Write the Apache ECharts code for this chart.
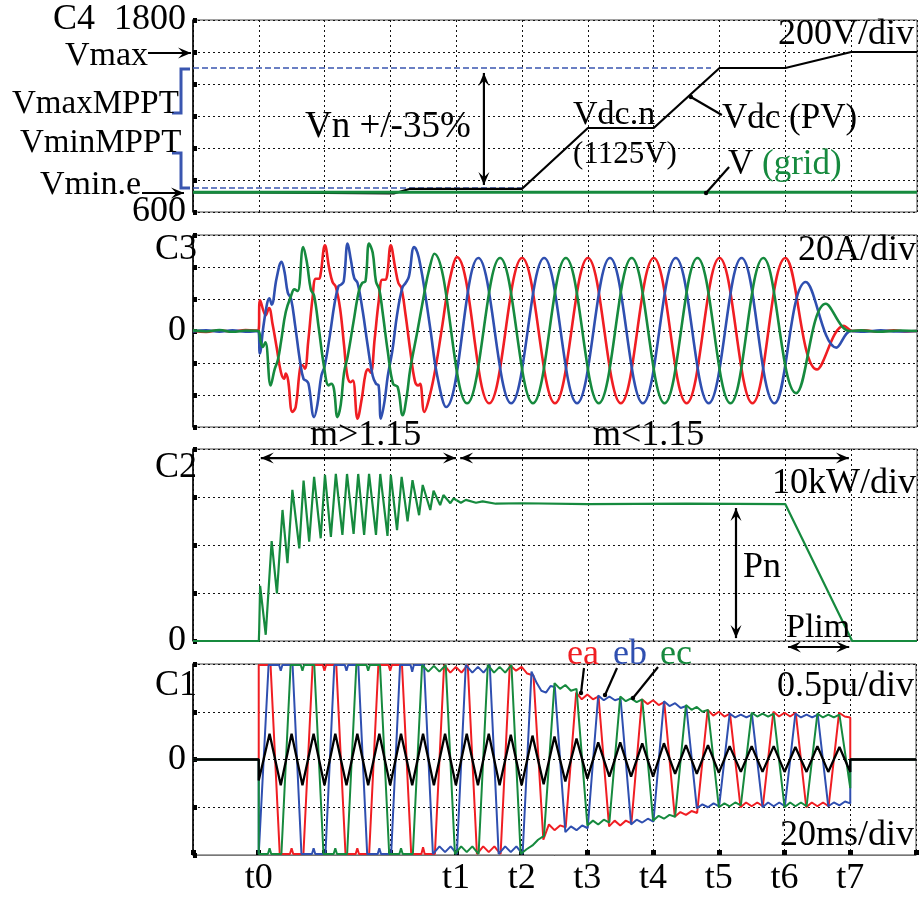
<!DOCTYPE html>
<html>
<head>
<meta charset="utf-8">
<script src="https://cdn.jsdelivr.net/npm/echarts/dist/echarts.min.js"></script>
<style>
html,body{margin:0;padding:0;background:#fff;}
#chart{width:919px;height:897px;}
</style>
</head>
<body>
<div id="chart"></div>
<script>
// ---------- time axis (ms), 20 ms per division ----------
const xTickLabels = [[20,'t0'],[80,'t1'],[100,'t2'],[120,'t3'],[140,'t4'],[160,'t5'],[180,'t6'],[200,'t7']];

// ---------- C4: DC-link voltage and grid voltage (V) ----------
const c4TickLabels = [[1800,'1800'],[600,'600']];
const vdcPV = [[0,723],[20,723],[20,716],[61,716],[66,745],[100,745],[120,1125],[140,1125],[160,1500],[180,1500],[200,1600],[220,1600]];
const vGrid = [[0,723],[220,723]];
const vMaxMPPT = [[0,1500],[157.4,1500]];
const vMinMPPT = [[0,750],[100,750]];

// ---------- C3: phase currents (A) ----------
const c3TickLabels = [[0,'0']];
const iA = [[0,0.2],[4,-0.6],[8,0.5],[12,-0.4],[16,0.6],[19.8,0.2],
  [20.4,19.2],[22.1,9.8],[23.1,14.4],[24.2,4],[25.4,-10],[26.7,-25.6],[27.7,-29.8],[28.2,-26.6],[28.9,-30.8],[30.2,-50.6],
  [31.2,-47.5],[32.6,-22.5],[33.3,-21.4],[34.0,-23.5],[35.0,-6.8],[36.3,20.2],[37.3,32.7],[38.3,32.7],[38.8,35.9],[40.1,53.5],
  [41.4,39],[42.4,30.6],[43.4,27.5],[44.7,14],[45.9,-8.9],[46.9,-28],[47.9,-32],[48.6,-31],[50.0,-54.8],
  [51.3,-42],[52.4,-27],[53.2,-24],[54.0,-26],[55.2,-5],[56.4,18],[57.5,32],[58.4,32],[59.0,35],[60.1,53.5],
  [61.4,40],[62.4,30],[63.3,27],[64.6,10],[66.0,-12],[67.4,-31],[68.4,-34],[69.0,-33],[70.3,-50.6],
  [72.0,-40],[73.8,-22],[75.8,4],[77.8,30],[80.2,46.2],
  [90,-45.2],[100,45.6],[110,-45.2],[120,45.6],[130,-45.2],[140,45.6],[150,-45.2],[160,45.6],[170,-45.2],[180,45.6],
  [189.6,-24],[197.8,3.3],[200.4,0],[204,0.5],[208,-0.4],[213,0.4],[217,-0.3],[220,0]];
const iB = [[0,-0.3],[4,0.5],[8,-0.5],[12,0.4],[16,-0.5],[19.8,0],
  [20.3,-14],[21.4,3],[22.5,17],[23.2,20.5],[23.9,16.5],[25.4,33],[26.9,43.3],[27.8,37],[28.8,24],[29.8,20],[31.0,4],
  [32.6,-20],[33.6,-30],[34.4,-31],[35.1,-33],[36.8,-53.8],[37.8,-46],[39.0,-28],[40.0,-22],[41.5,-4],[43.0,17],
  [44.2,28],[45.0,29],[45.8,31],[47.0,54.6],[48.0,44],[49.0,33],[50.0,30],[51.6,12],[53.0,-8],[54.6,-28],[55.6,-33],
  [56.4,-34],[57.1,-54.8],[58.2,-44],[59.2,-28],[60.6,-12],[62.0,10],[63.6,27],[64.6,30],[65.6,34],[67.2,52.5],
  [68.2,49],[69.2,40],[70.2,28],[72.2,0],[74.2,-28],[76.9,-47.5],
  [86.7,45.6],[96.7,-45.2],[106.7,45.6],[116.7,-45.2],[126.7,45.6],[136.7,-45.2],[146.7,45.6],[156.7,-45.2],[166.7,45.6],
  [176.7,-45.2],[186.2,30.6],[195.5,-10.4],[200,0],[204,-0.5],[209,0.4],[214,-0.3],[220,0]];
const iC = [[0,0.4],[4,-0.3],[8,0.6],[12,-0.5],[16,0.3],[19.8,0],
  [20.5,-6],[21.2,-10],[22.0,-7],[23.6,-34],[24.8,-24],[25.8,-18],[26.8,-6],[28.2,12],[29.8,22],[30.8,26],[31.8,25],
  [33.5,52.5],[34.6,43],[35.8,26],[36.8,22],[38.2,2],[39.8,-22],[41.2,-34],[42.0,-33],[42.8,-36],[43.9,-53.8],
  [44.9,-46],[45.9,-26],[47.0,-16],[48.8,6],[50.4,25],[51.4,30],[52.4,31],[53.5,54.6],[54.6,49],[55.6,31],[56.6,26],
  [57.6,12],[59.2,-13],[60.8,-33],[62.2,-35],[63.7,-52.7],[65.0,-40],[66.0,-24],[68.2,0],[70.4,25],[71.6,37],[73.3,48.3],
  [83.3,-45.2],[93.3,45.6],[103.3,-45.2],[113.3,45.6],[123.3,-45.2],[133.3,45.6],[143.3,-45.2],[153.3,45.6],[163.3,-45.2],
  [173.3,45.6],[183.3,-38.8],[192.3,17],[199.6,0],[203,0.4],[208,-0.5],[215,0.3],[220,0]];

// ---------- C2: output power (kW) ----------
const c2TickLabels = [[0,'0']];
const pOut = [[0,0],[20,0],[20.1,2],[20.4,11.5],[22.1,1.3],[23.9,20.8],[25.5,9.9],[27.2,27.3],[28.7,16.2],[30.2,31.5],
  [32.3,19.3],[33.6,33.4],[35.3,20.7],[36.8,34.2],[38.8,21.4],[40.1,34.6],[41.9,21.7],[43.4,34.8],[45.4,22.1],[46.8,34.8],
  [48.8,22.3],[50.2,34.8],[52.0,22.1],[53.5,34.8],[55.6,22.1],[56.9,34.8],[59.1,21.9],[60.1,34.6],[62.0,23.1],[63.4,34.2],
  [65.2,24.9],[66.7,33.5],[68.7,26.2],[69.8,32.5],[72.1,27.3],[73.1,31.3],[75.1,28.3],[76.1,30.4],[78.2,28.7],[79.2,29.7],
  [81.4,28.8],[82.9,29.4],[86,28.8],[88,29.1],[92,28.6],[100,28.7],[120,28.5],[150,28.6],[180,28.5],[200.3,0],[220,0]];

// ---------- C1: modulating signals (pu) ----------
const c1TickLabels = [[0,'0']];
const eA = [[0,0],[20,0],[20,0.99],[23.6,0.99],
  [26.4,-0.99],[29.5,-0.99],[30,-0.93],[30.5,-0.99],[33.6,-0.99],
  [36.4,0.99],[39.5,0.99],[40,0.93],[40.5,0.99],[43.6,0.99],
  [46.4,-0.99],[49.5,-0.99],[50,-0.93],[50.5,-0.99],[53.6,-0.99],
  [56.4,0.99],[59.5,0.99],[60,0.93],[60.5,0.99],[63.6,0.99],
  [66.4,-0.99],[69.5,-0.99],[70,-0.92],[70.5,-0.99],[73.6,-0.99],
  [76.4,0.99],[78.3,0.91],[80,0.97],[81.7,0.91],[83.6,0.99],
  [86.4,-0.99],[88.3,-0.91],[90,-0.97],[91.7,-0.91],[93.6,-0.99],
  [96.4,0.99],[98.3,0.93],[100,0.97],[101.7,0.9],[103.6,0.88],
  [106.6,-0.84],[108.3,-0.68],[110,-0.74],[111.7,-0.69],[113.4,-0.71],
  [116.6,0.70],[118.3,0.63],[120,0.68],[121.7,0.63],[123.4,0.66],
  [126.6,-0.70],[128.3,-0.64],[130,-0.69],[131.7,-0.64],[133.4,-0.67],
  [136.6,0.63],[138.3,0.58],[140,0.62],[141.7,0.57],[143.4,0.60],
  [146.6,-0.60],[148.3,-0.55],[150,-0.58],[151.7,-0.54],[153.4,-0.56],
  [156.6,0.52],[158.3,0.46],[160,0.50],[161.7,0.45],[163.4,0.48],
  [166.6,-0.50],[168.3,-0.45],[170,-0.49],[171.7,-0.45],[173.4,-0.49],
  [176.6,0.50],[178.3,0.45],[180,0.49],[181.7,0.45],[183.4,0.49],
  [186.6,-0.50],[188.3,-0.45],[190,-0.49],[191.7,-0.45],[193.4,-0.49],
  [196.6,0.49],[198.3,0.45],[200,0.44],[200,0],[220,0]];
const eB = [[0,0],[20,0],[20,-0.99],[20.3,-0.99],
  [23.0,0.99],[26.2,0.99],[26.7,0.93],[27.2,0.99],[30.3,0.99],
  [33.0,-0.99],[36.2,-0.99],[36.7,-0.93],[37.2,-0.99],[40.3,-0.99],
  [43.0,0.99],[46.2,0.99],[46.7,0.93],[47.2,0.99],[50.3,0.99],
  [53.0,-0.99],[56.2,-0.99],[56.7,-0.93],[57.2,-0.99],[60.3,-0.99],
  [63.0,0.99],[66.2,0.99],[66.7,0.92],[67.2,0.99],[70.3,0.99],
  [73.0,-0.99],[75.0,-0.91],[76.7,-0.97],[78.4,-0.91],[80.3,-0.99],
  [83.0,0.99],[85.0,0.91],[86.7,0.97],[88.4,0.91],[90.3,0.99],
  [93.0,-0.99],[95.0,-0.91],[96.7,-0.97],[98.4,-0.91],[100.3,-0.99],
  [103.0,0.92],[104.6,0.80],[106.0,0.72],[107.4,0.70],[108.8,0.77],[110.1,0.76],
  [113.3,-0.76],[115.0,-0.70],[116.7,-0.74],[118.4,-0.69],[120.1,-0.72],
  [123.3,0.67],[125.0,0.62],[126.7,0.66],[128.4,0.62],[130.1,0.64],
  [133.3,-0.68],[135.0,-0.63],[136.7,-0.66],[138.4,-0.62],[140.1,-0.65],
  [143.3,0.61],[145.0,0.56],[146.7,0.59],[148.4,0.54],[150.1,0.56],
  [153.3,-0.51],[155.0,-0.47],[156.7,-0.50],[158.4,-0.46],[160.1,-0.49],
  [163.3,0.48],[165.0,0.44],[166.7,0.47],[168.4,0.44],[170.1,0.47],
  [173.3,-0.50],[175.0,-0.45],[176.7,-0.49],[178.4,-0.45],[180.1,-0.49],
  [183.3,0.48],[185.0,0.44],[186.7,0.47],[188.4,0.44],[190.1,0.47],
  [193.3,-0.49],[195.0,-0.45],[196.7,-0.48],[198.4,-0.44],[200,-0.46],[200,0],[220,0]];
const eC = [[0,0],[20,0],[20,-0.99],
  [22.8,-0.99],[23.3,-0.93],[23.8,-0.99],[26.9,-0.99],
  [29.7,0.99],[32.8,0.99],[33.3,0.93],[33.8,0.99],[36.9,0.99],
  [39.7,-0.99],[42.8,-0.99],[43.3,-0.93],[43.8,-0.99],[46.9,-0.99],
  [49.7,0.99],[52.8,0.99],[53.3,0.93],[53.8,0.99],[56.9,0.99],
  [59.7,-0.99],[62.8,-0.99],[63.3,-0.93],[63.8,-0.99],[66.9,-0.99],
  [69.7,0.99],[71.6,0.92],[73.3,0.98],[75.0,0.92],[76.9,0.99],
  [79.7,-0.99],[81.6,-0.91],[83.3,-0.97],[85.0,-0.91],[86.9,-0.99],
  [89.7,0.99],[91.6,0.91],[93.3,0.97],[95.0,0.91],[96.9,0.99],
  [99.7,-0.99],[101.5,-0.94],[103.3,-0.90],[105.0,-0.84],[106.8,-0.80],
  [110.0,0.80],[111.7,0.74],[113.3,0.78],[115.0,0.72],[116.7,0.74],
  [120.0,-0.69],[121.7,-0.64],[123.3,-0.68],[125.0,-0.63],[126.7,-0.66],
  [130.0,0.66],[131.7,0.61],[133.3,0.64],[135.0,0.60],[136.7,0.63],
  [140.0,-0.64],[141.7,-0.59],[143.3,-0.62],[145.0,-0.58],[146.7,-0.60],
  [150.0,0.57],[151.7,0.52],[153.3,0.55],[155.0,0.50],[156.7,0.52],
  [160.0,-0.50],[161.7,-0.46],[163.3,-0.49],[165.0,-0.45],[166.7,-0.48],
  [170.0,0.49],[171.7,0.45],[173.3,0.48],[175.0,0.45],[176.7,0.48],
  [180.0,-0.50],[181.7,-0.45],[183.3,-0.49],[185.0,-0.45],[186.7,-0.49],
  [190.0,0.48],[191.7,0.44],[193.3,0.47],[195.0,0.44],[196.7,0.47],
  [200,-0.30],[200,0],[220,0]];
const eZero = [[0,0],[20,0],[20,-0.22],[23.3,0.27],[26.7,-0.27],[30,0.27],[33.3,-0.27],[36.7,0.27],[40,-0.27],
  [43.3,0.27],[46.7,-0.27],[50,0.27],[53.3,-0.27],[56.7,0.27],[60,-0.27],[63.3,0.27],[66.7,-0.27],[70,0.27],
  [73.3,-0.27],[76.7,0.27],[80,-0.27],[83.3,0.27],[86.7,-0.27],[90,0.27],[93.3,-0.27],[96.7,0.26],[100,-0.27],
  [103.3,0.25],[106.7,-0.26],[110,0.24],[113.3,-0.23],[116.7,0.22],[120,-0.20],[123.3,0.18],[126.7,-0.18],
  [130,0.18],[133.3,-0.18],[136.7,0.17],[140,-0.18],[143.3,0.17],[146.7,-0.15],[150,0.15],[153.3,-0.15],
  [156.7,0.15],[160,-0.14],[163.3,0.14],[166.7,-0.13],[170,0.14],[173.3,-0.13],[176.7,0.14],[180,-0.13],
  [183.3,0.13],[186.7,-0.13],[190,0.14],[193.3,-0.13],[196.7,0.13],[200,-0.13],[200,0],[220,0]];

// ---------- drawing ----------
const FONT = '"Liberation Serif","Times New Roman",serif';
const RED = '#f01e23', BLUE = '#2f4fb0', GREEN = '#168a3e', DASHBLUE = '#3a56b0';
const xLabelMap = new Map(xTickLabels);

const gridBoxes = [
  {left:193, top:20,  width:724, height:192},
  {left:193, top:235, width:724, height:192},
  {left:193, top:449, width:724, height:192},
  {left:193, top:664, width:724, height:196}
];

const dotted = {color:'#111', type:[2,3], width:1};

function xAx(g, withLabels) {
  return {
    type:'value', gridIndex:g, min:0, max:220, interval:20,
    axisLine:{show:withLabels, onZero:false, lineStyle:{color:'#777', width:1}},
    axisTick:{show:withLabels, inside:true, length:5, lineStyle:{color:'#000', width:5}},
    axisLabel:{show:withLabels, margin:6, fontFamily:FONT, fontSize:36, color:'#000',
      formatter: v => xLabelMap.get(v) || ''},
    splitLine:{show:true, lineStyle:dotted}
  };
}
function yAx(g, min, max, interval, labels) {
  const m = new Map(labels);
  return {
    type:'value', gridIndex:g, min, max, interval,
    axisLine:{show:true, onZero:false, lineStyle:{color:'#000', width:1.5}},
    axisTick:{show:true, inside:true, length:4, lineStyle:{color:'#000', width:5}},
    axisLabel:{margin:7, fontFamily:FONT, fontSize:36, color:'#000',
      formatter: v => m.has(v) ? m.get(v) : ''},
    splitLine:{show:true, lineStyle:dotted}
  };
}
function trace(data, g, color, width, extra) {
  return Object.assign({
    type:'line', xAxisIndex:g, yAxisIndex:g, data, showSymbol:false, symbol:'none',
    lineStyle:{color, width}, itemStyle:{color}, animation:false, silent:true, clip:true
  }, extra || {});
}

const option = {
  backgroundColor:'#fff',
  animation:false,
  grid: gridBoxes.map(b => Object.assign({show:true, borderColor:'#444', borderWidth:1, backgroundColor:'transparent'}, b)),
  xAxis: [xAx(0,false), xAx(1,false), xAx(2,false), xAx(3,true)],
  yAxis: [
    yAx(0, 600, 1800, 200, c4TickLabels),
    yAx(1, -60, 60, 20, c3TickLabels),
    yAx(2, 0, 40, 10, c2TickLabels),
    yAx(3, -1, 1, 0.5, c1TickLabels)
  ],
  series: [
    trace(vMaxMPPT, 0, DASHBLUE, 1.3, {lineStyle:{color:DASHBLUE, width:1.3, type:[6,3]}}),
    trace(vMinMPPT, 0, DASHBLUE, 1.3, {lineStyle:{color:DASHBLUE, width:1.3, type:[6,3]}}),
    trace(vdcPV, 0, '#000', 2.2),
    trace(vGrid, 0, GREEN, 3),
    trace(iA, 1, RED, 2.6, {smooth:0.4}),
    trace(iB, 1, BLUE, 2.6, {smooth:0.4}),
    trace(iC, 1, GREEN, 2.6, {smooth:0.4}),
    trace(pOut, 2, GREEN, 2.2),
    trace(eA, 3, RED, 2),
    trace(eB, 3, BLUE, 2),
    trace(eC, 3, GREEN, 2),
    trace(eZero, 3, '#000', 2.3)
  ]
};

const chart = echarts.init(document.getElementById('chart'));
chart.setOption(option);

// ---------- annotations ----------
const px = (g, p) => chart.convertToPixel({gridIndex:g}, p);

function arrow(a, b, both) {
  const els = [];
  const dx = b[0]-a[0], dy = b[1]-a[1], len = Math.hypot(dx, dy);
  const ux = dx/len, uy = dy/len, nx = -uy, ny = ux;
  const L = 13, W = 5.5;
  const head = (p, sx, sy) => ({
    type:'polygon', z:100,
    shape:{points:[
      [p[0], p[1]],
      [p[0]-sx*L+nx*W, p[1]-sy*L+ny*W],
      [p[0]-sx*L*0.6, p[1]-sy*L*0.6],
      [p[0]-sx*L-nx*W, p[1]-sy*L-ny*W]
    ]},
    style:{fill:'#000'}
  });
  els.push({type:'line', z:99, shape:{x1:a[0], y1:a[1], x2:b[0], y2:b[1]}, style:{stroke:'#000', lineWidth:2.2}});
  els.push(head(b, ux, uy));
  if (both) els.push(head(a, -ux, -uy));
  return els;
}
function pointer(a, b) {
  return [
    {type:'line', z:99, shape:{x1:a[0], y1:a[1], x2:b[0], y2:b[1]}, style:{stroke:'#000', lineWidth:2.2}},
    {type:'circle', z:99, shape:{cx:a[0], cy:a[1], r:2.2}, style:{fill:'#000'}}
  ];
}
function txt(s, x, y, size, color, align) {
  return {
    type:'text', z:101, x, y,
    style:{text:s, font: size + 'px ' + FONT, fill: color || '#000',
      align: align || 'left', verticalAlign:'middle',
      textAlign: align || 'left', textVerticalAlign:'middle'}
  };
}
function bracket(points) {
  return {type:'polyline', z:99, shape:{points}, style:{stroke:DASHBLUE, lineWidth:3, fill:null}};
}

const els = [];
// C4 annotations
els.push(...arrow([148,53],[191,53],false));
els.push(...arrow([142,193],[184,193],false));
els.push(bracket([[172,113],[181,113],[181,69],[190,69]]));
els.push(bracket([[172,153],[181,153],[181,188],[190,188]]));
els.push(...arrow(px(0,[88.4,1469]), px(0,[88.4,769]), true));
els.push(...pointer(px(0,[151.3,1319]), px(0,[160.7,1206])));
els.push(...pointer(px(0,[155.9,719]), px(0,[162.9,881])));
// C2 annotations
els.push(...arrow(px(2,[20.6,38.1]), px(2,[79.9,38.1]), true));
els.push(...arrow(px(2,[81.2,38.1]), px(2,[199.3,38.1]), true));
els.push(...arrow(px(2,[165,27.7]), px(2,[165,0.6]), true));
els.push(...arrow(px(2,[180.8,-1.25]), px(2,[199.4,-1.25]), true));
// C1 pointers
els.push(...pointer([581,693],[584,668]));
els.push(...pointer([605,695],[617,668]));
els.push(...pointer([633,698],[658,667]));

const labels = [
  txt('C4', 53, 20, 36),
  txt('Vmax', 65, 56, 34),
  txt('VmaxMPPT', 12, 104, 33),
  txt('VminMPPT', 20, 143, 33),
  txt('Vmin.e', 40, 185, 34),
  txt('Vn +/-35%', 305, 127, 37),
  txt('Vdc.n', 573, 115, 34),
  txt('(1125V)', 573, 155, 31),
  txt('Vdc (PV)', 722, 119, 35),
  txt('V', 728, 165, 35),
  txt('(grid)', 762, 165, 35, GREEN),
  txt('200V/div', 914, 35, 36, '#000', 'right'),
  txt('C3', 155, 250, 36),
  txt('20A/div', 916, 251, 36, '#000', 'right'),
  txt('m>1.15', 310, 436, 36),
  txt('m<1.15', 593, 436, 36),
  txt('C2', 155, 468, 36),
  txt('10kW/div', 916, 484, 36, '#000', 'right'),
  txt('Pn', 743, 568, 36),
  txt('Plim', 786, 628, 34),
  txt('C1', 155, 686, 36),
  txt('ea', 567, 655, 36, RED),
  txt('eb', 613, 655, 36, BLUE),
  txt('ec', 660, 655, 36, GREEN),
  txt('0.5pu/div', 914, 687, 36, '#000', 'right'),
  txt('20ms/div', 914, 836, 36, '#000', 'right')
];

chart.setOption({graphic: els.concat(labels)});
</script>
</body>
</html>
